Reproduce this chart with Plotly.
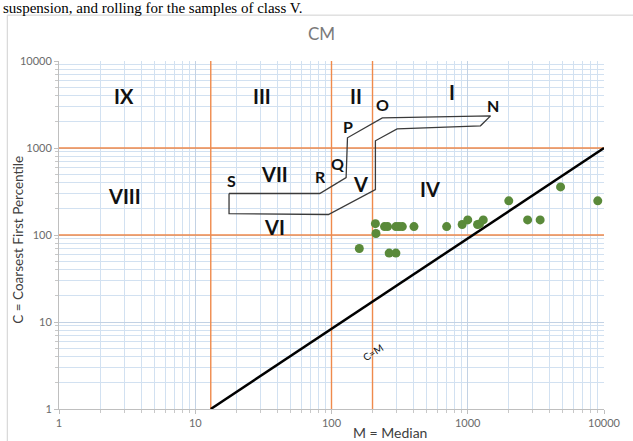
import numpy as np
import plotly.graph_objects as go

# Sample values: M = median, C = coarsest first percentile
median = [160, 210, 212, 245, 258, 265, 297, 297, 313, 331, 403, 700,
          910, 1000, 1180, 1220, 1300, 2000, 2750, 3400, 4800, 9000]
coarsest = [70, 135, 104, 125, 125, 62, 62, 125, 125, 125, 125, 125,
            132, 149, 132, 134, 149, 247, 149, 149, 357, 247]

# Passega CM envelope (S-R-Q-P-O-N and return), closed at S
env_m = [17.7, 82, 128, 131, 236, 1470, 1240, 303, 210, 210, 95, 17.7, 17.7]
env_c = [300, 300, 456, 1310, 2220, 2340, 1800, 1660, 1210, 332, 172, 176, 300]

# Field boundaries
bound_m = [13, 100, 200]
bound_c = [100, 1000]

# C = M reference line
cm_m = [13, 10000]
cm_c = [1, 1000]

# Field (roman) labels and envelope point labels
field_text = ["IX", "III", "II", "I", "VII", "VIII", "V", "IV", "VI"]
field_m = [3, 31, 152, 760, 38, 3, 163, 528, 38]
field_c = [4000, 4000, 4000, 4400, 507, 284, 389, 341, 122]

pt_text = ["O", "N", "P", "Q", "R", "S"]
pt_m = [236, 1520, 133, 111, 83, 18.3]
pt_c = [3130, 3050, 1750, 660, 468, 422]

tick_vals = [1, 10, 100, 1000, 10000]
tick_text = ["1", "10", "100", "1000", "10000"]
minor_vals = [k * 10 ** d for d in range(4) for k in range(2, 10)]

ORANGE = "#ef8a4c"
GRID_MAJOR = "#c3d2e4"
GRID_MINOR = "#d2e1f1"
TICK_FONT = dict(family="Lato", size=11, color="#6b6b6b")

# plot-area pixel frame used to place paper-referenced text
PL, PR, PT, PB = 59, 607, 61, 410


def px(xp):
    return (xp - PL) / (PR - PL)


def py(yp):
    return (PB - yp) / (PB - PT)


fig = go.Figure()

for m in bound_m:
    fig.add_trace(go.Scatter(x=[m, m], y=[1, 10000], mode="lines",
                             line=dict(color=ORANGE, width=1.4),
                             hoverinfo="skip", showlegend=False))
for c in bound_c:
    fig.add_trace(go.Scatter(x=[1, 10000], y=[c, c], mode="lines",
                             line=dict(color=ORANGE, width=1.4),
                             hoverinfo="skip", showlegend=False))

fig.add_trace(go.Scatter(x=env_m, y=env_c, mode="lines",
                         line=dict(color="#3a3a3a", width=1.3),
                         hoverinfo="skip", showlegend=False))

fig.add_trace(go.Scatter(x=cm_m, y=cm_c, mode="lines",
                         line=dict(color="#000000", width=2.5),
                         hoverinfo="skip", showlegend=False))

fig.add_trace(go.Scatter(x=median, y=coarsest, mode="markers",
                         marker=dict(color="#5a8a3a", size=9),
                         showlegend=False))

annotations = []
for t, m, c in zip(field_text, field_m, field_c):
    annotations.append(dict(x=np.log10(m), y=np.log10(c), xref="x", yref="y",
                            text=t, showarrow=False, xanchor="center",
                            yanchor="middle",
                            font=dict(family="Lato", size=20, color="#111111",
                                      weight="bold")))
for t, m, c in zip(pt_text, pt_m, pt_c):
    annotations.append(dict(x=np.log10(m), y=np.log10(c), xref="x", yref="y",
                            text=t, showarrow=False, xanchor="center",
                            yanchor="middle",
                            font=dict(family="Lato", size=16, color="#111111",
                                      weight="bold")))

# Label along the C = M line
annotations.append(dict(x=np.log10(203), y=np.log10(4.5), xref="x", yref="y",
                        text="C=M", showarrow=False, textangle=-33,
                        xanchor="center", yanchor="middle",
                        font=dict(family="Lato", size=10, color="#111111")))

# Chart title and axis titles
annotations.append(dict(x=px(323), y=py(33), xref="paper", yref="paper",
                        xanchor="center", yanchor="middle",
                        text="CM", showarrow=False,
                        font=dict(family="Lato", size=17, color="#7a7a7a")))
annotations.append(dict(x=px(392), y=py(434), xref="paper", yref="paper",
                        xanchor="center", yanchor="middle",
                        text="M = Median", showarrow=False,
                        font=dict(family="Lato", size=14, color="#404040")))
annotations.append(dict(x=px(18), y=py(240), xref="paper", yref="paper",
                        xanchor="center", yanchor="middle",
                        text="C = Coarsest First Percentile", textangle=-90,
                        showarrow=False,
                        font=dict(family="Lato", size=13.5, color="#404040")))

# Caption line of the surrounding text
annotations.append(dict(x=px(1), y=py(8), xref="paper", yref="paper",
                        xanchor="left", yanchor="middle",
                        text="suspension, and rolling for the samples of class V.",
                        showarrow=False,
                        font=dict(family="Liberation Serif", size=15,
                                  color="#000000")))

axis_common = dict(
    type="log", range=[0, 4], tickmode="array", tickvals=tick_vals,
    ticktext=tick_text, showgrid=True, gridcolor=GRID_MAJOR, gridwidth=1,
    showline=True, linecolor="#bfbfbf", linewidth=1,
    ticks="outside", ticklen=4, tickcolor="#bfbfbf", tickfont=TICK_FONT,
    zeroline=False,
    minor=dict(tickmode="array", tickvals=minor_vals, showgrid=True,
               gridcolor=GRID_MINOR, gridwidth=1, ticks="outside", ticklen=3,
               tickcolor="#c8c8c8"),
)

fig.update_layout(
    width=633, height=441,
    margin=dict(l=PL, r=633 - PR, t=PT, b=441 - PB),
    paper_bgcolor="white", plot_bgcolor="white",
    xaxis=dict(**axis_common),
    yaxis=dict(**axis_common),
    annotations=annotations,
    shapes=[dict(type="rect", xref="paper", yref="paper",
                 x0=px(7), x1=1.2, y0=-0.3, y1=py(15),
                 line=dict(color="#d0d0d0", width=1), layer="below")],
)

fig.write_html("out.html")
